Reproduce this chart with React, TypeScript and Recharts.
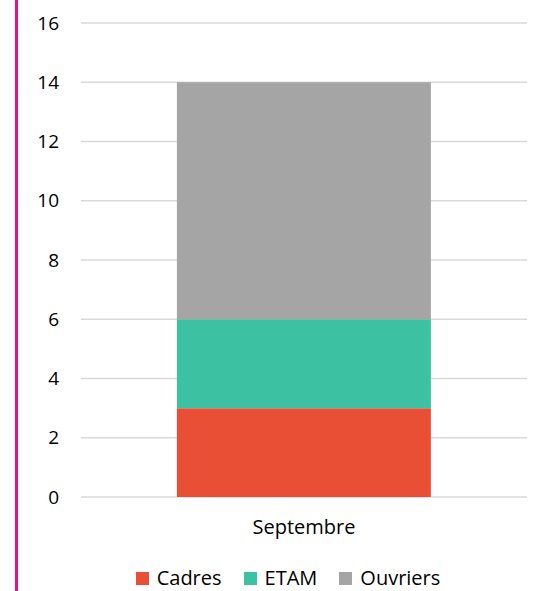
import React from 'react';
import { BarChart, Bar, XAxis, YAxis, CartesianGrid } from 'recharts';

const categories = ['Septembre'];
const cadres = [3];
const etam = [3];
const ouvriers = [8];
const yTicks = [0, 2, 4, 6, 8, 10, 12, 14, 16];
const seriesNames = ['Cadres', 'ETAM', 'Ouvriers'];
const seriesColors = ['#E94F35', '#3CC1A2', '#A5A5A5'];

const data = categories.map((c, i) => ({
  name: c,
  Cadres: cadres[i],
  ETAM: etam[i],
  Ouvriers: ouvriers[i],
}));

const font = '"Open Sans", sans-serif';

export default function App() {
  return (
    <div style={{ position: 'absolute', left: 0, top: 0, width: 544, height: 591, background: '#fff', fontFamily: font }}>
      <div style={{ position: 'absolute', left: 15, top: 0, width: 3, height: 591, background: '#E0157E' }} />
      <BarChart
        width={544}
        height={591}
        data={data}
        margin={{ top: 23, right: 17, bottom: 64, left: 0 }}
        barCategoryGap="21.5%"
      >
        <CartesianGrid vertical={false} stroke="#D9D9D9" strokeWidth={1.5} />
        <XAxis
          dataKey="name"
          axisLine={false}
          tickLine={false}
          tick={{ fill: '#000', fontSize: 20, fontFamily: font }}
          tickMargin={17}
        />
        <YAxis
          width={81}
          domain={[0, 16]}
          ticks={yTicks}
          axisLine={false}
          tickLine={false}
          tick={{ fill: '#000', fontSize: 19, fontFamily: font }}
          tickMargin={16}
        />
        {seriesNames.map((s, i) => (
          <Bar key={s} dataKey={s} stackId="a" fill={seriesColors[i]} isAnimationActive={false} />
        ))}
      </BarChart>
      <div style={{ position: 'absolute', left: 0, top: 566, width: 544, height: 24, display: 'flex', justifyContent: 'center', paddingLeft: 32, boxSizing: 'border-box' }}>
        {seriesNames.map((s, i) => (
          <div key={s} style={{ display: 'flex', alignItems: 'center', marginRight: i < seriesNames.length - 1 ? 22 : 0 }}>
            <div style={{ width: 13, height: 13, background: seriesColors[i], marginRight: 8 }} />
            <span style={{ fontSize: 20, color: '#000', fontFamily: font, lineHeight: '24px' }}>{s}</span>
          </div>
        ))}
      </div>
    </div>
  );
}
